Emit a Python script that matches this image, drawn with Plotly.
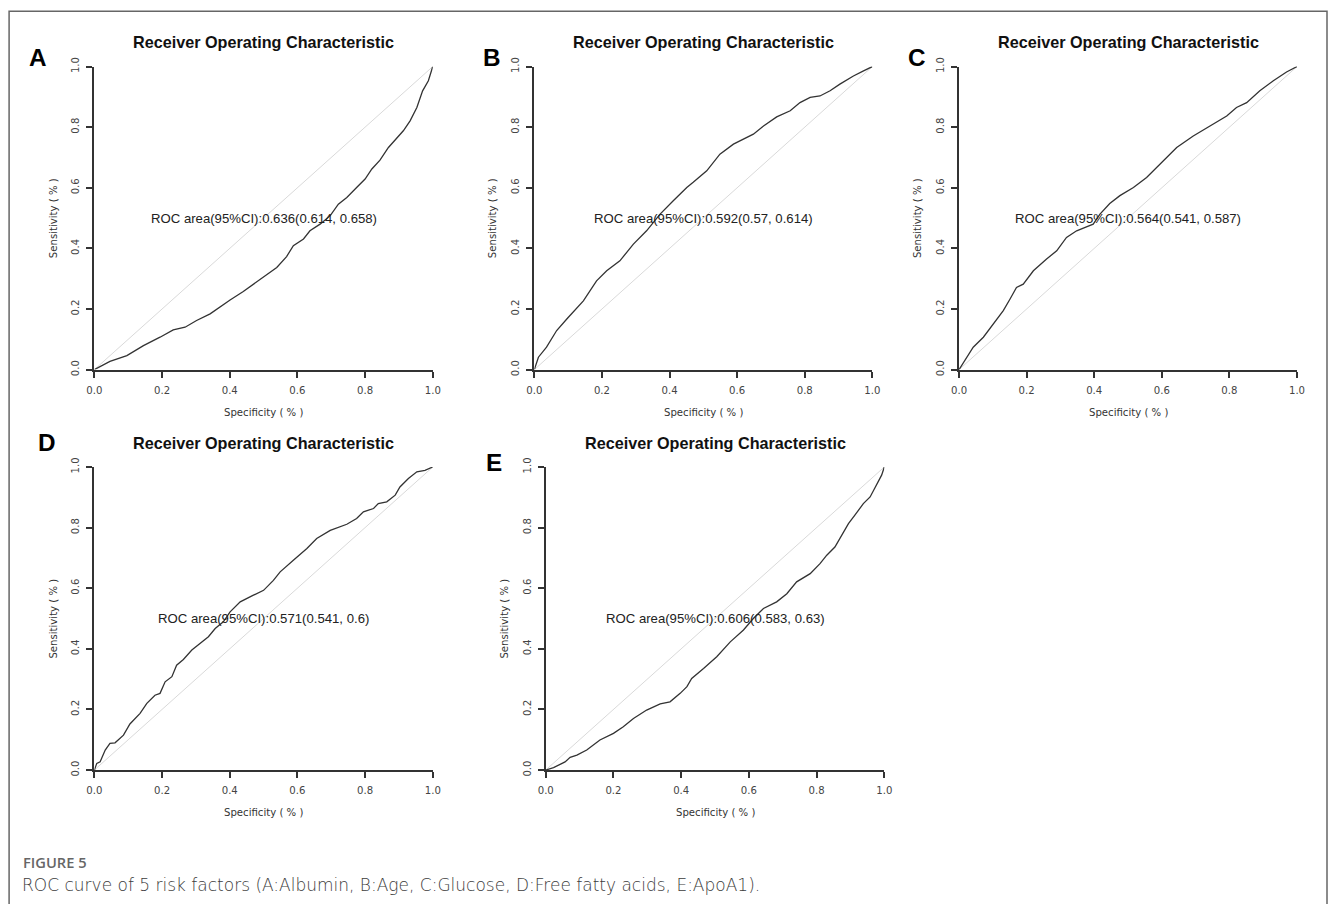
import plotly.graph_objects as go

# The page is photographed with an 8px body margin and a slight downscale;
# positions below are in target-picture pixels and mapped to figure pixels.
OFF = 8
SX = 1344 / 1328
SY = 920 / 904
W, H = 1336, 904          # figure size in CSS px
FS = 1.013                 # font compensation for the downscale

# ---------------- data ----------------
a_x = [0, 0.046, 0.096, 0.145, 0.194, 0.233, 0.268, 0.302, 0.342, 0.362, 0.401, 0.44, 0.47, 0.5,
       0.539, 0.568, 0.588, 0.618, 0.637, 0.667, 0.697, 0.721, 0.746, 0.775, 0.8, 0.82, 0.844,
       0.869, 0.894, 0.913, 0.933, 0.953, 0.97, 0.987, 1.0]
a_y = [0, 0.027, 0.046, 0.079, 0.107, 0.131, 0.14, 0.162, 0.184, 0.2, 0.23, 0.258, 0.282, 0.307,
       0.337, 0.373, 0.409, 0.431, 0.458, 0.48, 0.508, 0.546, 0.568, 0.601, 0.629, 0.662, 0.691,
       0.733, 0.766, 0.788, 0.821, 0.865, 0.92, 0.953, 1.0]

b_x = [0, 0.012, 0.036, 0.066, 0.096, 0.145, 0.184, 0.214, 0.253, 0.293, 0.332, 0.372, 0.411,
       0.451, 0.47, 0.51, 0.549, 0.589, 0.648, 0.678, 0.717, 0.757, 0.786, 0.816, 0.845, 0.875,
       0.904, 0.944, 0.974, 1.0]
b_y = [0, 0.041, 0.074, 0.129, 0.167, 0.227, 0.293, 0.326, 0.359, 0.414, 0.458, 0.513, 0.557,
       0.601, 0.618, 0.656, 0.711, 0.744, 0.777, 0.804, 0.834, 0.854, 0.881, 0.898, 0.903, 0.92,
       0.942, 0.969, 0.986, 1.0]

c_x = [0, 0.023, 0.042, 0.072, 0.102, 0.131, 0.151, 0.17, 0.19, 0.22, 0.259, 0.289, 0.318, 0.348,
       0.377, 0.397, 0.417, 0.446, 0.476, 0.516, 0.555, 0.595, 0.644, 0.693, 0.743, 0.792, 0.821,
       0.851, 0.89, 0.93, 0.969, 1.0]
c_y = [0, 0.041, 0.074, 0.107, 0.151, 0.195, 0.233, 0.271, 0.282, 0.326, 0.365, 0.392, 0.436,
       0.458, 0.471, 0.48, 0.513, 0.548, 0.574, 0.601, 0.634, 0.678, 0.733, 0.771, 0.804, 0.837,
       0.865, 0.881, 0.92, 0.953, 0.982, 1.0]

d_x = [0, 0.007, 0.017, 0.032, 0.046, 0.061, 0.086, 0.105, 0.135, 0.155, 0.179, 0.194, 0.209,
       0.229, 0.243, 0.263, 0.288, 0.313, 0.337, 0.357, 0.381, 0.401, 0.431, 0.47, 0.5, 0.529,
       0.549, 0.588, 0.628, 0.657, 0.697, 0.746, 0.775, 0.795, 0.825, 0.839, 0.864, 0.889,
       0.903, 0.928, 0.953, 0.977, 1.0]
d_y = [0, 0.022, 0.027, 0.066, 0.088, 0.09, 0.115, 0.152, 0.187, 0.22, 0.247, 0.253, 0.291,
       0.308, 0.346, 0.365, 0.396, 0.418, 0.44, 0.467, 0.489, 0.522, 0.555, 0.577, 0.593, 0.626,
       0.654, 0.692, 0.731, 0.764, 0.791, 0.811, 0.83, 0.852, 0.863, 0.879, 0.885, 0.907,
       0.934, 0.962, 0.984, 0.989, 1.0]

e_x = [0, 0.023, 0.057, 0.072, 0.092, 0.121, 0.16, 0.2, 0.229, 0.259, 0.298, 0.338, 0.367, 0.397,
       0.417, 0.431, 0.466, 0.505, 0.545, 0.584, 0.613, 0.643, 0.682, 0.712, 0.741, 0.781, 0.81,
       0.83, 0.854, 0.874, 0.894, 0.913, 0.938, 0.958, 0.977, 0.992, 1.0]
e_y = [0, 0.008, 0.027, 0.042, 0.049, 0.066, 0.099, 0.121, 0.143, 0.17, 0.198, 0.218, 0.225,
       0.253, 0.275, 0.302, 0.335, 0.374, 0.423, 0.462, 0.5, 0.533, 0.555, 0.582, 0.621, 0.648,
       0.681, 0.709, 0.736, 0.775, 0.813, 0.841, 0.879, 0.901, 0.94, 0.973, 1.0]

panel_letters = ["A", "B", "C", "D", "E"]
roc_labels = ["ROC area(95%CI):0.636(0.614, 0.658)",
              "ROC area(95%CI):0.592(0.57, 0.614)",
              "ROC area(95%CI):0.564(0.541, 0.587)",
              "ROC area(95%CI):0.571(0.541, 0.6)",
              "ROC area(95%CI):0.606(0.583, 0.63)"]
tick_vals = [0.0, 0.2, 0.4, 0.6, 0.8, 1.0]
tick_text = ["0.0", "0.2", "0.4", "0.6", "0.8", "1.0"]
plot_title = "Receiver Operating Characteristic"
x_title = "Specificity ( % )"
y_title = "Sensitivity ( % )"
caption_head = "FIGURE 5"
caption_text = "ROC curve of 5 risk factors (A:Albumin, B:Age, C:Glucose, D:Free fatty acids, E:ApoA1)."

curves = [(a_x, a_y), (b_x, b_y), (c_x, c_y), (d_x, d_y), (e_x, e_y)]

# ---------------- layout geometry (target pixels) ----------------
# (x0px, x1px, ytop_px, ybottom_px)
boxes = [(94.3, 432.7, 64.5, 368.0),
         (534.3, 872.3, 64.5, 368.0),
         (959.0, 1297.0, 64.5, 368.0),
         (94.3, 432.7, 465.5, 769.0),
         (545.7, 884.3, 465.5, 769.0)]
letter_pos = [(38, 55), (492, 55), (917, 55), (47, 441), (494, 461)]
title_y = [40, 40, 40, 441, 441]
ytitle_x = [53, 492, 917, 53, 504]
xtitle_y = [411, 411, 411, 812, 812]


def px(x):
    return (x * SX - OFF) / W


def py(y):
    return 1 - (y * SY - OFF) / H


def f(s):
    return s * FS


fig = go.Figure()
annotations = []
TICKFONT = dict(family="DejaVu Sans", size=f(10), color="#444")

for i, ((xs, ys), (x0, x1, yt, yb)) in enumerate(zip(curves, boxes)):
    n = i + 1
    xa = "x" if n == 1 else f"x{n}"
    ya = "y" if n == 1 else f"y{n}"
    # diagonal reference
    fig.add_trace(go.Scatter(x=[0, 1], y=[0, 1], mode="lines", xaxis=xa, yaxis=ya,
                             line=dict(color="#d9d9d9", width=1), showlegend=False, hoverinfo="skip"))
    fig.add_trace(go.Scatter(x=xs, y=ys, mode="lines", xaxis=xa, yaxis=ya,
                             line=dict(color="#333333", width=1.3), showlegend=False))
    axcommon = dict(range=[0, 1], showgrid=False, zeroline=False, showline=True,
                    linecolor="#333", linewidth=2, ticks="outside", ticklen=6, tickwidth=1.5,
                    tickcolor="#333", tickvals=tick_vals, ticktext=tick_text, tickfont=TICKFONT,
                    fixedrange=True)
    fig.layout[f"xaxis{'' if n == 1 else n}"] = dict(
        domain=[px(x0), px(x1)], anchor=ya, ticklabelstandoff=4, **axcommon)
    fig.layout[f"yaxis{'' if n == 1 else n}"] = dict(
        domain=[py(yb), py(yt)], anchor=xa, tickangle=-90, ticklabelstandoff=3, **axcommon)
    cx = (x0 + x1) / 2
    cy = (yt + yb) / 2
    # panel title
    annotations.append(dict(text=f"<b>{plot_title}</b>", x=px(cx), y=py(title_y[i]), xref="paper",
                            yref="paper", showarrow=False, xanchor="center", yanchor="middle",
                            font=dict(family="Liberation Sans", size=f(16), color="#111")))
    # panel letter
    lx, ly = letter_pos[i]
    annotations.append(dict(text=f"<b>{panel_letters[i]}</b>", x=px(lx), y=py(ly), xref="paper",
                            yref="paper", showarrow=False, xanchor="center", yanchor="middle",
                            font=dict(family="Liberation Sans", size=f(24), color="#000")))
    # axis titles
    annotations.append(dict(text=x_title, x=px(cx), y=py(xtitle_y[i]), xref="paper", yref="paper",
                            showarrow=False, xanchor="center", yanchor="middle",
                            font=dict(family="DejaVu Sans", size=f(10), color="#333")))
    annotations.append(dict(text=y_title, x=px(ytitle_x[i]), y=py(cy), xref="paper", yref="paper",
                            showarrow=False, xanchor="center", yanchor="middle", textangle=-90,
                            font=dict(family="DejaVu Sans", size=f(10), color="#333")))
    # ROC label at data (0.5, 0.5)
    annotations.append(dict(text=roc_labels[i], x=0.5, y=0.5, xref=xa, yref=ya, showarrow=False,
                            xanchor="center", yanchor="middle",
                            font=dict(family="Liberation Sans", size=f(13), color="#222")))

# caption
annotations.append(dict(text=caption_head, x=px(21), y=py(861), xref="paper", yref="paper",
                        showarrow=False, xanchor="left", yanchor="middle",
                        font=dict(family="Open Sans", size=f(14.5), color="#666", weight=600)))
annotations.append(dict(text=caption_text, x=px(20), y=py(884), xref="paper", yref="paper",
                        showarrow=False, xanchor="left", yanchor="middle",
                        font=dict(family="DejaVu Sans", size=f(16.8), color="#3c3c3c", weight=200)))

shapes = [dict(type="rect", xref="paper", yref="paper", x0=px(9), x1=px(1327), y0=py(960),
               y1=py(9), line=dict(color="#666", width=1.5), fillcolor="rgba(0,0,0,0)",
               layer="below")]

fig.update_layout(width=W, height=H, margin=dict(l=0, r=0, t=0, b=0), paper_bgcolor="white",
                  plot_bgcolor="white", annotations=annotations, shapes=shapes, showlegend=False)

fig.write_html("out.html", config={"displayModeBar": False})
